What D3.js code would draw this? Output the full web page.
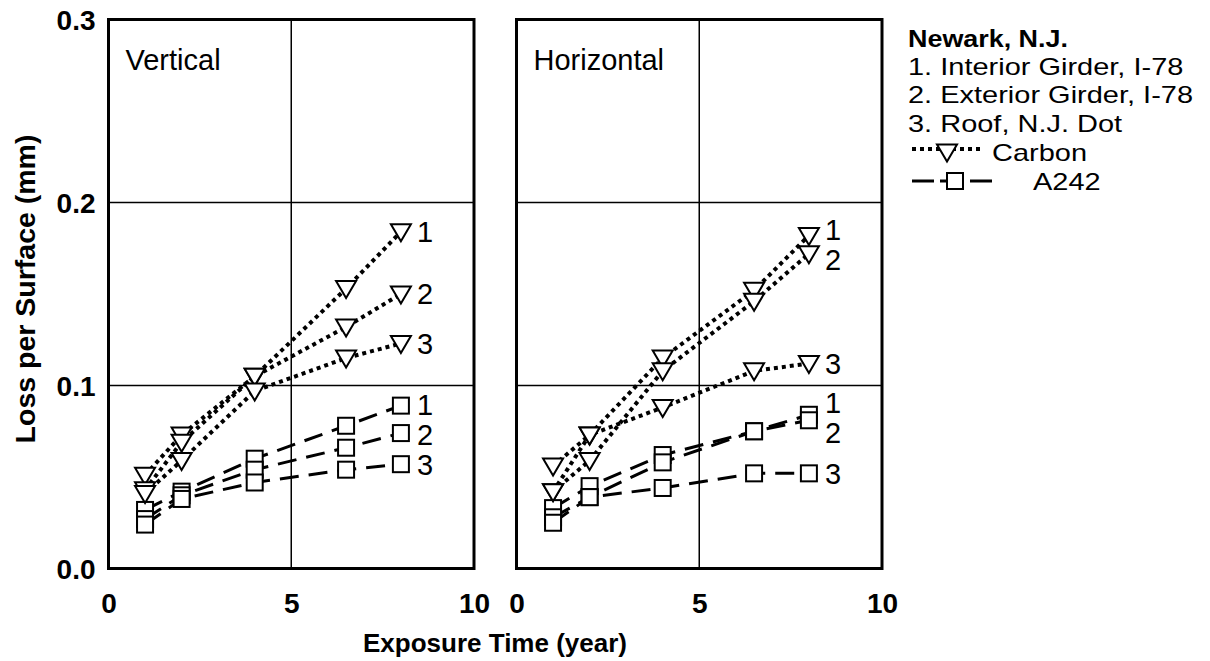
<!DOCTYPE html>
<html>
<head>
<meta charset="utf-8">
<script src="https://cdn.jsdelivr.net/npm/d3@7"></script>
<style>
  html, body { margin: 0; padding: 0; background: #fff; }
  svg { display: block; }
  text { font-family: "Liberation Sans", Arial, Helvetica, sans-serif; fill: #000; }
</style>
</head>
<body>
<svg id="chart" width="1210" height="661"></svg>
<script>
// Exposure years at which coupons were measured
const years = [1, 2, 4, 6.5, 8];

// Vertical exposure, loss per surface (mm)
const vertCarbon1 = [0.051, 0.073, 0.105, 0.153, 0.184];
const vertCarbon2 = [0.043, 0.069, 0.105, 0.132, 0.150];
const vertCarbon3 = [0.041, 0.059, 0.097, 0.115, 0.123];
const vertA242_1 = [0.032, 0.042, 0.060, 0.078, 0.089];
const vertA242_2 = [0.027, 0.040, 0.054, 0.066, 0.074];
const vertA242_3 = [0.024, 0.038, 0.047, 0.054, 0.057];

// Horizontal exposure, loss per surface (mm)
const horCarbon1 = [0.056, 0.073, 0.115, 0.152, 0.182];
const horCarbon2 = [0.042, 0.059, 0.108, 0.146, 0.172];
const horCarbon3 = [0.042, 0.073, 0.088, 0.108, 0.112];
const horA242_1 = [0.033, 0.045, 0.062, 0.075, 0.084];
const horA242_2 = [0.028, 0.039, 0.058, 0.075, 0.081];
const horA242_3 = [0.025, 0.039, 0.044, 0.052, 0.052];

const seriesIds = ["1", "2", "3"];
const xTicks = [0, 5, 10];
const yTicks = [0.0, 0.1, 0.2, 0.3];

const legendTitle = "Newark, N.J.";
const legendSites = ["1. Interior Girder, I-78", "2. Exterior Girder, I-78", "3. Roof, N.J. Dot"];
const legendSteels = ["Carbon", "A242"];

const panels = [
  { name: "Vertical", left: 108.5, carbon: [vertCarbon1, vertCarbon2, vertCarbon3], a242: [vertA242_1, vertA242_2, vertA242_3] },
  { name: "Horizontal", left: 516.5, carbon: [horCarbon1, horCarbon2, horCarbon3], a242: [horA242_1, horA242_2, horA242_3] }
];

const svg = d3.select("#chart");
const panelW = 365.5, plotTop = 19.5, plotBottom = 568.5;
const tickFs = 28, textFs = 29;

const y = d3.scaleLinear().domain([0, 0.3]).range([plotBottom, plotTop]);

const triPath = "M-10,-7.5 L10,-7.5 L0,9.5 Z";
const sqSize = 16;

function drawCarbonMarker(g, cx, cy) {
  g.append("path").attr("d", triPath)
    .attr("transform", `translate(${cx},${cy})`)
    .attr("fill", "#fff").attr("stroke", "#000").attr("stroke-width", 2);
}
function drawA242Marker(g, cx, cy) {
  g.append("rect")
    .attr("x", cx - sqSize / 2).attr("y", cy - sqSize / 2)
    .attr("width", sqSize).attr("height", sqSize)
    .attr("fill", "#fff").attr("stroke", "#000").attr("stroke-width", 2);
}

// spread end labels apart so neighbouring numbers do not collide
function spreadLabels(ys, minGap) {
  const items = ys.map((v, i) => ({ i, y: v })).sort((a, b) => a.y - b.y);
  for (let it = 0; it < 50; it++) {
    let moved = false;
    for (let k = 1; k < items.length; k++) {
      const d = items[k].y - items[k - 1].y;
      if (d < minGap) {
        const push = (minGap - d) / 2;
        items[k - 1].y -= push; items[k].y += push; moved = true;
      }
    }
    if (!moved) break;
  }
  const out = [];
  items.forEach(o => { out[o.i] = o.y; });
  return out;
}

const dotDash = "4 4";
const longDash = "19 10";

panels.forEach((p, pi) => {
  const x = d3.scaleLinear().domain([0, 10]).range([p.left, p.left + panelW]);
  const g = svg.append("g");

  // grid
  g.selectAll(".gx").data([5]).enter().append("line")
    .attr("x1", d => x(d)).attr("x2", d => x(d))
    .attr("y1", plotTop).attr("y2", plotBottom)
    .attr("stroke", "#000").attr("stroke-width", 1.5);
  g.selectAll(".gy").data([0.1, 0.2]).enter().append("line")
    .attr("x1", x(0)).attr("x2", x(10))
    .attr("y1", d => y(d)).attr("y2", d => y(d))
    .attr("stroke", "#000").attr("stroke-width", 1.5);

  // x axis tick labels
  const xAxis = d3.axisBottom(x).tickValues(xTicks).tickSize(0).tickPadding(0).tickFormat(d3.format("d"));
  const xa = g.append("g").attr("transform", `translate(0,${plotBottom})`).call(xAxis);
  xa.select(".domain").remove();
  xa.selectAll("text").attr("font-size", tickFs).attr("font-weight", "bold")
    .attr("dy", null).attr("y", 44).attr("font-family", "Liberation Sans, Arial, sans-serif");

  if (pi === 0) {
    const yAxis = d3.axisLeft(y).tickValues(yTicks).tickSize(0).tickPadding(0).tickFormat(d3.format(".1f"));
    const ya = g.append("g").attr("transform", `translate(${p.left},0)`).call(yAxis);
    ya.select(".domain").remove();
    ya.selectAll("text").attr("font-size", tickFs).attr("font-weight", "bold")
      .attr("x", -13).attr("dy", "0.36em").attr("font-family", "Liberation Sans, Arial, sans-serif");
  }

  const line = d3.line().x((d, i) => x(years[i])).y(d => y(d));

  // A242 series
  p.a242.forEach(vals => {
    g.append("path").attr("d", line(vals)).attr("fill", "none")
      .attr("stroke", "#000").attr("stroke-width", 3).attr("stroke-dasharray", longDash);
  });
  // Carbon series
  p.carbon.forEach(vals => {
    g.append("path").attr("d", line(vals)).attr("fill", "none")
      .attr("stroke", "#000").attr("stroke-width", 4).attr("stroke-dasharray", dotDash);
  });
  p.a242.forEach(vals => vals.forEach((v, i) => drawA242Marker(g, x(years[i]), y(v))));
  p.carbon.forEach(vals => vals.forEach((v, i) => drawCarbonMarker(g, x(years[i]), y(v))));

  // series numbers beside the last points
  const last = years.length - 1;
  [p.carbon, p.a242].forEach(group => {
    const ly = spreadLabels(group.map(vals => y(vals[last])), 30);
    group.forEach((vals, si) => {
      g.append("text").attr("x", x(years[last]) + 16).attr("y", ly[si])
        .attr("dy", "0.36em").attr("font-size", textFs).text(seriesIds[si]);
    });
  });

  // frame
  g.append("rect").attr("x", x(0)).attr("y", plotTop)
    .attr("width", panelW).attr("height", plotBottom - plotTop)
    .attr("fill", "none").attr("stroke", "#000").attr("stroke-width", 3);

  // panel name
  g.append("text").attr("x", x(0) + 17).attr("y", 70).attr("font-size", textFs).text(p.name);
});

// axis titles
svg.append("text").attr("transform", "translate(35,289) rotate(-90)")
  .attr("text-anchor", "middle").attr("font-size", 28.5).attr("font-weight", "bold")
  .text("Loss per Surface (mm)");
svg.append("text").attr("x", 495).attr("y", 652)
  .attr("text-anchor", "middle").attr("font-size", 26).attr("font-weight", "bold")
  .text("Exposure Time (year)");

// legend: wide, compact lettering
const lg = svg.append("g").attr("transform", "translate(908,0)");
const legFs = 23, legSx = 1.26;
function legendText(x0, y0, str, bold, sx) {
  return lg.append("text")
    .attr("transform", `translate(${x0},${y0}) scale(${sx},1)`)
    .attr("font-size", legFs).attr("font-weight", bold ? "bold" : null).text(str);
}
legendText(0, 46.5, legendTitle, true, 1.17);
legendSites.forEach((s, i) => legendText(0, 74.5 + i * 28.5, s, false, legSx));

const cy1 = 152, cy2 = 181;
lg.append("line").attr("x1", 4).attr("x2", 74).attr("y1", cy1 - 3).attr("y2", cy1 - 3)
  .attr("stroke", "#000").attr("stroke-width", 4).attr("stroke-dasharray", "4 4");
drawCarbonMarker(lg, 39, cy1);
legendText(84, cy1 + 8.5, legendSteels[0], false, legSx);
lg.append("line").attr("x1", 4).attr("x2", 26).attr("y1", cy2).attr("y2", cy2)
  .attr("stroke", "#000").attr("stroke-width", 3);
lg.append("line").attr("x1", 32).attr("x2", 40).attr("y1", cy2).attr("y2", cy2)
  .attr("stroke", "#000").attr("stroke-width", 3);
lg.append("line").attr("x1", 62).attr("x2", 84).attr("y1", cy2).attr("y2", cy2)
  .attr("stroke", "#000").attr("stroke-width", 3);
drawA242Marker(lg, 47, cy2);
legendText(125, cy2 + 8.5, legendSteels[1], false, legSx);
</script>
</body>
</html>
